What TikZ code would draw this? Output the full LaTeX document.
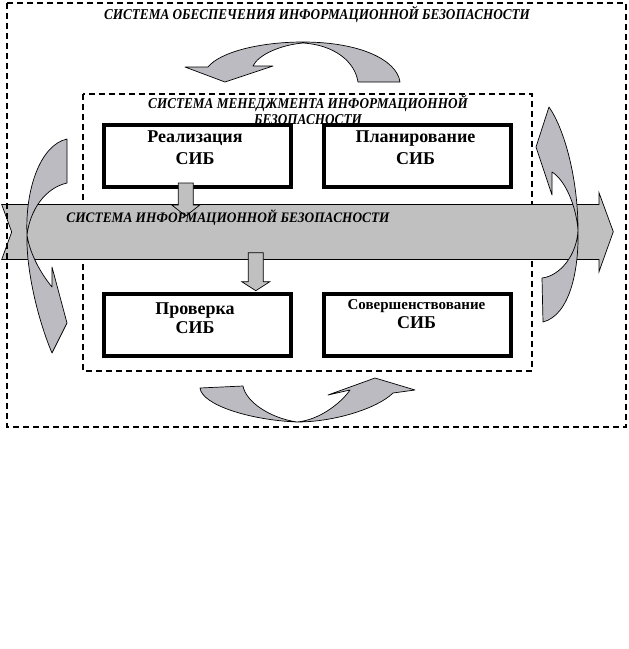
\documentclass[tikz,border=0pt]{standalone}
\usepackage{fontspec}
\setmainfont{Liberation Serif}
\newfontfamily\narrowserif[FakeStretch=0.88]{Liberation Serif}
\newfontfamily\bandserif[FakeStretch=0.92]{Liberation Serif}
\usepackage{tikz}
\definecolor{ribbongray}{RGB}{188,187,193}
\definecolor{bandgray}{RGB}{192,192,192}
\tikzset{frame/.style={line width=2.6pt,dash pattern=on 6pt off 4pt},
stagebox/.style={draw,fill=white,line width=4pt,minimum width=187pt,minimum height=62pt,inner sep=0pt},
stagetext/.style={align=center,inner sep=0pt,font=\bfseries\fontsize{18}{21.6}\selectfont},
systitle/.style={inner sep=0pt,align=center,font=\narrowserif\bfseries\itshape\fontsize{15}{15.6}\selectfont},
ribbon/.style={draw,fill=ribbongray,line width=.7pt,line join=round},
blockarrow/.style={draw,fill=bandgray,line width=.7pt}}

\begin{document}
\begin{tikzpicture}[x=1pt,y=-1pt]
\useasboundingbox[fill=white] (0,0) rectangle (629,649);
\draw[frame] (83,94) rectangle (532,371);
\node[systitle] (mgmt) at (308,110) {СИСТЕМА МЕНЕДЖМЕНТА ИНФОРМАЦИОННОЙ\\БЕЗОПАСНОСТИ};
\foreach \nm/\x/\y in {real/197.5/155.5,plan/417.5/155.5,check/197.5/324.5,impr/417.5/324.5}
\node[stagebox] (\nm) at (\x,\y) {};
\node[stagetext] (realtext) at (195,147.5) {Реализация\\СИБ};
\node[stagetext] (plantext) at (415.5,147.5) {Планирование\\СИБ};
\node[stagetext,font=\bfseries\fontsize{18}{19.4}\selectfont] (checktext) at (195,318) {Проверка\\СИБ};
\node[stagetext,font=\bfseries\fontsize{18}{18.3}\selectfont] (impretext) at (416.5,314) {{\fontsize{15}{15}\selectfont Совершенствование}\\СИБ};
\draw[blockarrow] (1.7,204.5) -- (599,204.5) -- (599,192.7) -- (613.3,231.7) -- (599,271.7) -- (599,259.5) -- (1.7,259.5) -- (11.7,232) -- cycle;
\draw[ribbon] (185,67) -- (225,82) -- (273,66) -- (253,66) .. controls (258,55) and (280,45) .. (303,43) .. controls (335,45) and (355,62) .. (358,82) -- (400,82) .. controls (397,60) and (360,42) .. (303,42) .. controls (260,42) and (220,52) .. (208,67) -- cycle;
\draw[ribbon] (67,183) .. controls (45,188) and (30,210) .. (27,235) .. controls (30,255) and (42,275) .. (52,287) -- (52,267) -- (67,323) -- (52,353) .. controls (38,320) and (26,270) .. (27,235) .. controls (25,190) and (40,145) .. (67,139) -- cycle;
\draw[ribbon] (543,322) .. controls (570,315) and (579,270) .. (578,230) .. controls (578,180) and (565,130) .. (549,107) -- (536,147) -- (552,195) -- (552,172) .. controls (565,180) and (576,205) .. (578,230) .. controls (577,255) and (560,276) .. (542,278) -- cycle;
\draw[ribbon] (200,388) -- (243,386) .. controls (246,402) and (270,418) .. (297,422) .. controls (320,420) and (342,402) .. (350,390) -- (328,395) -- (375,378) -- (415,390) -- (393,393) .. controls (378,408) and (335,422) .. (297,422) .. controls (250,420) and (202,405) .. (200,388) -- cycle;
\draw[blockarrow] (178.3,183) -- (193.3,183) -- (193.3,205) -- (199.8,205) -- (185.8,216) -- (171.8,205) -- (178.3,205) -- cycle;
\draw[blockarrow] (248.3,252.7) -- (263.3,252.7) -- (263.3,281.7) -- (269.8,281.7) -- (255.8,290.7) -- (241.8,281.7) -- (248.3,281.7) -- cycle;
\node[systitle,font=\bandserif\bfseries\itshape\fontsize{14.5}{14.5}\selectfont] (isstitle) at (228,218) {СИСТЕМА ИНФОРМАЦИОННОЙ БЕЗОПАСНОСТИ};
\draw[frame] (7,3) rectangle (626,427);
\node[systitle] (isptitle) at (317,14) {СИСТЕМА ОБЕСПЕЧЕНИЯ ИНФОРМАЦИОННОЙ БЕЗОПАСНОСТИ};
\end{tikzpicture}
\end{document}
